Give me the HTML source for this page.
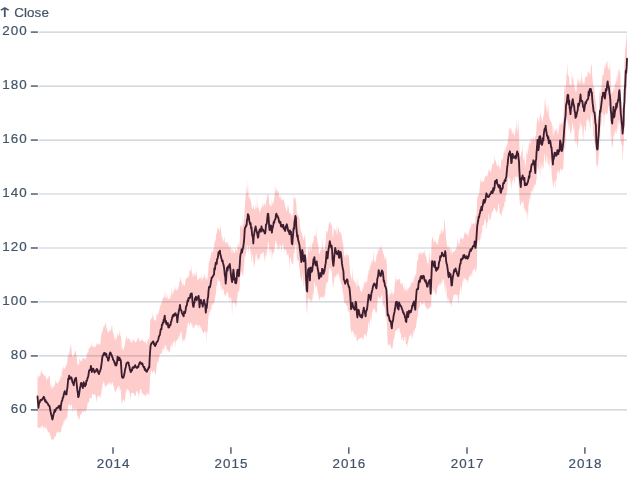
<!DOCTYPE html>
<html><head><meta charset="utf-8"><title>Close</title>
<style>
html,body{margin:0;padding:0;background:#fff;}
svg{display:block;font-family:"Liberation Sans",Arial,sans-serif;font-size:13.4px;fill:#435368;}
text{stroke:#435368;stroke-width:0.2px;}
</style></head>
<body>
<svg width="640" height="485" viewBox="0 0 640 485" style="will-change:transform">
<rect width="640" height="485" fill="#fff"/>
<g stroke="#c9cfd5" stroke-width="1.2" fill="none"><line x1="38.8" x2="627" y1="409.90" y2="409.90"/><line x1="38.8" x2="627" y1="355.93" y2="355.93"/><line x1="38.8" x2="627" y1="301.96" y2="301.96"/><line x1="38.8" x2="627" y1="247.99" y2="247.99"/><line x1="38.8" x2="627" y1="194.02" y2="194.02"/><line x1="38.8" x2="627" y1="140.04" y2="140.04"/><line x1="38.8" x2="627" y1="86.07" y2="86.07"/><line x1="38.8" x2="627" y1="32.10" y2="32.10"/></g>
<g stroke="#4b5a6b" stroke-width="1.45" fill="none"><line x1="30.8" x2="37.9" y1="409.90" y2="409.90"/><line x1="30.8" x2="37.9" y1="355.93" y2="355.93"/><line x1="30.8" x2="37.9" y1="301.96" y2="301.96"/><line x1="30.8" x2="37.9" y1="247.99" y2="247.99"/><line x1="30.8" x2="37.9" y1="194.02" y2="194.02"/><line x1="30.8" x2="37.9" y1="140.04" y2="140.04"/><line x1="30.8" x2="37.9" y1="86.07" y2="86.07"/><line x1="30.8" x2="37.9" y1="32.10" y2="32.10"/><line x1="113.0" x2="113.0" y1="447.2" y2="453.8"/><line x1="230.9" x2="230.9" y1="447.2" y2="453.8"/><line x1="348.8" x2="348.8" y1="447.2" y2="453.8"/><line x1="467.0" x2="467.0" y1="447.2" y2="453.8"/><line x1="584.9" x2="584.9" y1="447.2" y2="453.8"/></g>
<g letter-spacing="1"><text x="27.6" y="413.20" text-anchor="end">60</text><text x="27.6" y="359.23" text-anchor="end">80</text><text x="27.6" y="305.26" text-anchor="end">100</text><text x="27.6" y="251.29" text-anchor="end">120</text><text x="27.6" y="197.32" text-anchor="end">140</text><text x="27.6" y="143.34" text-anchor="end">160</text><text x="27.6" y="89.37" text-anchor="end">180</text><text x="27.6" y="35.40" text-anchor="end">200</text></g>
<g letter-spacing="1"><text x="113.6" y="468.2" text-anchor="middle">2014</text><text x="231.5" y="468.2" text-anchor="middle">2015</text><text x="349.4" y="468.2" text-anchor="middle">2016</text><text x="467.6" y="468.2" text-anchor="middle">2017</text><text x="585.5" y="468.2" text-anchor="middle">2018</text></g>
<text transform="translate(-4.0,16.6) scale(1,0.63)" font-family="DejaVu Sans" font-size="21px" style="stroke:none">↑</text><text x="14.2" y="16.6" letter-spacing="0.1">Close</text>
<path d="M37.5,376.2L38.0,374.4L38.4,377.9L38.9,377.7L39.3,375.4L39.8,375.9L40.2,375.4L40.7,373.2L41.1,369.1L41.6,372.0L42.0,372.9L42.5,372.9L42.9,373.9L43.4,374.6L43.8,374.7L44.3,375.3L44.7,376.2L45.2,377.3L45.6,374.6L46.1,378.4L46.6,380.4L47.0,380.1L47.5,378.2L47.9,377.1L48.4,375.3L48.8,379.0L49.3,376.3L49.7,375.6L50.2,383.9L50.6,384.9L51.1,389.2L51.5,384.6L52.0,388.8L52.4,388.5L52.9,385.8L53.3,386.7L53.8,387.1L54.2,386.3L54.7,385.1L55.1,383.8L55.6,379.1L56.1,382.5L56.5,383.0L57.0,382.0L57.4,384.1L57.9,383.8L58.3,382.1L58.8,382.1L59.2,381.1L59.7,380.0L60.1,379.4L60.6,375.2L61.0,377.5L61.5,376.4L61.9,370.4L62.4,371.5L62.8,367.8L63.3,368.9L63.7,365.8L64.2,368.7L64.7,369.1L65.1,368.0L65.6,367.1L66.0,365.2L66.5,365.3L66.9,363.7L67.4,359.6L67.8,356.4L68.3,352.4L68.7,356.5L69.2,353.6L69.6,351.5L70.1,347.8L70.5,347.0L71.0,343.0L71.4,349.3L71.9,353.5L72.3,356.6L72.8,356.4L73.2,358.0L73.7,355.7L74.2,354.0L74.6,353.0L75.1,350.3L75.5,351.1L76.0,351.8L76.4,356.8L76.9,358.3L77.3,365.5L77.8,363.2L78.2,364.7L78.7,364.4L79.1,364.7L79.6,356.4L80.0,361.0L80.5,360.2L80.9,361.1L81.4,361.9L81.8,361.2L82.3,359.1L82.8,357.6L83.2,357.4L83.7,358.2L84.1,358.7L84.6,359.9L85.0,357.2L85.5,359.4L85.9,358.7L86.4,357.8L86.8,354.2L87.3,352.2L87.7,353.2L88.2,352.9L88.6,348.4L89.1,348.1L89.5,348.8L90.0,347.5L90.4,347.5L90.9,345.6L91.3,346.5L91.8,340.6L92.3,347.8L92.7,345.2L93.2,346.7L93.6,347.6L94.1,347.4L94.5,346.2L95.0,345.0L95.4,347.7L95.9,346.3L96.3,345.4L96.8,343.3L97.2,343.2L97.7,343.7L98.1,344.6L98.6,343.5L99.0,345.4L99.5,344.4L99.9,344.2L100.4,343.5L100.9,337.3L101.3,333.1L101.8,334.8L102.2,331.0L102.7,331.2L103.1,327.4L103.6,326.0L104.0,328.1L104.5,325.8L104.9,324.3L105.4,324.7L105.8,320.6L106.3,326.6L106.7,329.0L107.2,328.2L107.6,332.3L108.1,332.3L108.5,333.1L109.0,330.6L109.4,329.4L109.9,331.1L110.4,331.5L110.8,330.5L111.3,327.9L111.7,325.6L112.2,325.5L112.6,331.0L113.1,332.4L113.5,333.8L114.0,335.3L114.4,339.7L114.9,338.6L115.3,341.0L115.8,335.0L116.2,338.7L116.7,338.3L117.1,337.4L117.6,331.7L118.0,336.3L118.5,335.2L119.0,334.1L119.4,334.2L119.9,329.1L120.3,335.2L120.8,336.2L121.2,337.5L121.7,347.9L122.1,350.3L122.6,346.2L123.0,348.4L123.5,350.5L123.9,347.7L124.4,346.9L124.8,344.7L125.3,341.9L125.7,338.8L126.2,336.3L126.6,337.0L127.1,337.8L127.5,340.1L128.0,339.3L128.5,338.1L128.9,338.6L129.4,340.1L129.8,338.5L130.3,341.7L130.7,342.2L131.2,340.1L131.6,343.4L132.1,342.9L132.5,339.8L133.0,339.0L133.4,340.1L133.9,341.7L134.3,341.7L134.8,339.5L135.2,342.7L135.7,342.2L136.1,342.0L136.6,341.5L137.1,339.8L137.5,338.9L138.0,339.5L138.4,337.6L138.9,337.6L139.3,341.7L139.8,341.1L140.2,341.0L140.7,340.3L141.1,339.8L141.6,339.6L142.0,340.9L142.5,339.1L142.9,341.1L143.4,341.5L143.8,340.2L144.3,341.9L144.7,342.3L145.2,342.6L145.6,339.4L146.1,344.9L146.6,343.8L147.0,342.7L147.5,340.9L147.9,340.1L148.4,338.7L148.8,339.1L149.3,341.1L149.7,333.9L150.2,320.3L150.6,320.0L151.1,317.7L151.5,318.1L152.0,319.0L152.4,311.4L152.9,318.3L153.3,314.9L153.8,319.4L154.2,320.3L154.7,320.5L155.2,319.9L155.6,320.4L156.1,319.7L156.5,315.3L157.0,312.4L157.4,315.2L157.9,314.4L158.3,313.8L158.8,311.8L159.2,310.5L159.7,308.2L160.1,302.9L160.6,306.4L161.0,305.5L161.5,302.3L161.9,302.0L162.4,299.9L162.8,298.4L163.3,298.1L163.7,297.9L164.2,296.8L164.7,290.3L165.1,298.5L165.6,296.8L166.0,291.2L166.5,298.2L166.9,298.4L167.4,294.3L167.8,299.1L168.3,298.4L168.7,299.6L169.2,298.6L169.6,298.5L170.1,297.6L170.5,296.3L171.0,294.4L171.4,287.1L171.9,293.5L172.3,295.5L172.8,291.7L173.3,293.0L173.7,290.5L174.2,290.1L174.6,288.4L175.1,290.4L175.5,285.6L176.0,291.3L176.4,290.5L176.9,288.7L177.3,289.3L177.8,290.5L178.2,287.6L178.7,286.3L179.1,284.8L179.6,279.9L180.0,281.6L180.5,277.1L180.9,278.0L181.4,282.1L181.8,282.1L182.3,285.1L182.8,286.3L183.2,283.4L183.7,284.4L184.1,285.4L184.6,285.9L185.0,283.7L185.5,280.9L185.9,277.5L186.4,279.1L186.8,278.7L187.3,275.5L187.7,278.0L188.2,277.4L188.6,277.0L189.1,274.6L189.5,270.9L190.0,269.7L190.4,269.9L190.9,272.1L191.4,265.3L191.8,272.2L192.3,273.4L192.7,275.8L193.2,277.6L193.6,274.2L194.1,272.8L194.5,276.0L195.0,271.4L195.4,276.4L195.9,274.6L196.3,269.7L196.8,274.8L197.2,278.1L197.7,281.2L198.1,278.3L198.6,280.4L199.0,279.0L199.5,277.4L199.9,278.8L200.4,277.3L200.9,279.0L201.3,273.0L201.8,281.8L202.2,280.6L202.7,277.9L203.1,278.1L203.6,276.7L204.0,276.0L204.5,272.5L204.9,278.9L205.4,276.6L205.8,279.8L206.3,277.6L206.7,280.1L207.2,280.4L207.6,277.4L208.1,272.1L208.5,267.4L209.0,260.3L209.5,262.5L209.9,258.3L210.4,258.4L210.8,255.2L211.3,253.1L211.7,250.8L212.2,252.4L212.6,252.3L213.1,251.9L213.5,248.0L214.0,250.2L214.4,241.3L214.9,242.8L215.3,240.3L215.8,239.6L216.2,233.1L216.7,233.5L217.1,231.6L217.6,226.7L218.0,229.0L218.5,228.5L219.0,227.2L219.4,231.4L219.9,230.3L220.3,224.8L220.8,228.5L221.2,232.7L221.7,236.2L222.1,239.1L222.6,235.3L223.0,242.4L223.5,239.3L223.9,241.2L224.4,235.2L224.8,240.2L225.3,243.3L225.7,242.8L226.2,242.6L226.6,242.0L227.1,242.3L227.6,242.1L228.0,244.3L228.5,244.3L228.9,246.3L229.4,247.9L229.8,246.5L230.3,243.6L230.7,249.9L231.2,247.8L231.6,250.7L232.1,254.6L232.5,249.3L233.0,249.6L233.4,250.8L233.9,252.4L234.3,252.7L234.8,252.9L235.2,250.1L235.7,247.5L236.1,252.6L236.6,250.3L237.1,251.5L237.5,244.5L238.0,245.2L238.4,241.4L238.9,248.4L239.3,246.2L239.8,239.7L240.2,223.9L240.7,226.9L241.1,224.4L241.6,227.5L242.0,227.4L242.5,227.2L242.9,215.3L243.4,223.7L243.8,224.1L244.3,216.0L244.7,208.8L245.2,201.6L245.7,193.9L246.1,195.2L246.6,185.0L247.0,190.5L247.5,192.5L247.9,180.1L248.4,192.9L248.8,198.0L249.3,195.9L249.7,199.5L250.2,197.5L250.6,200.2L251.1,201.5L251.5,204.9L252.0,208.2L252.4,208.5L252.9,209.5L253.3,204.7L253.8,205.7L254.2,210.0L254.7,209.1L255.2,209.4L255.6,204.1L256.1,207.6L256.5,209.8L257.0,195.1L257.4,206.8L257.9,207.4L258.3,209.3L258.8,206.0L259.2,211.5L259.7,212.8L260.1,211.0L260.6,210.4L261.0,208.5L261.5,206.9L261.9,206.4L262.4,201.8L262.8,207.9L263.3,206.3L263.8,203.8L264.2,205.3L264.7,201.8L265.1,206.8L265.6,205.1L266.0,202.9L266.5,199.8L266.9,198.4L267.4,194.6L267.8,194.6L268.3,194.2L268.7,196.8L269.2,203.3L269.6,204.9L270.1,206.7L270.5,204.5L271.0,205.9L271.4,207.0L271.9,199.1L272.3,202.4L272.8,203.7L273.3,204.2L273.7,200.7L274.2,199.6L274.6,195.6L275.1,183.7L275.5,191.3L276.0,191.2L276.4,186.9L276.9,191.5L277.3,189.9L277.8,192.7L278.2,193.1L278.7,189.3L279.1,196.5L279.6,198.6L280.0,194.5L280.5,196.3L280.9,200.0L281.4,197.0L281.9,200.7L282.3,200.0L282.8,200.4L283.2,198.8L283.7,198.2L284.1,201.8L284.6,202.8L285.0,205.2L285.5,208.1L285.9,208.6L286.4,212.6L286.8,210.0L287.3,209.7L287.7,204.0L288.2,209.1L288.6,203.4L289.1,212.0L289.5,214.2L290.0,213.1L290.4,213.3L290.9,213.0L291.4,215.4L291.8,219.3L292.3,215.1L292.7,215.0L293.2,212.1L293.6,192.7L294.1,199.7L294.5,198.3L295.0,197.1L295.4,197.6L295.9,201.9L296.3,202.4L296.8,213.6L297.2,216.5L297.7,211.0L298.1,214.9L298.6,216.2L299.0,218.4L299.5,218.0L300.0,225.9L300.4,229.6L300.9,231.0L301.3,232.7L301.8,232.6L302.2,234.9L302.7,236.8L303.1,237.5L303.6,240.1L304.0,239.3L304.5,236.0L304.9,233.1L305.4,238.8L305.8,248.2L306.3,255.2L306.7,261.4L307.2,263.2L307.6,254.8L308.1,250.3L308.5,245.5L309.0,251.7L309.5,252.7L309.9,245.2L310.4,251.6L310.8,240.1L311.3,250.1L311.7,250.9L312.2,242.4L312.6,243.9L313.1,241.7L313.5,241.6L314.0,235.3L314.4,236.9L314.9,234.4L315.3,235.3L315.8,236.6L316.2,226.6L316.7,238.9L317.1,237.5L317.6,243.3L318.1,243.8L318.5,247.4L319.0,254.2L319.4,253.8L319.9,252.7L320.3,251.0L320.8,250.0L321.2,249.7L321.7,249.2L322.1,237.6L322.6,245.5L323.0,250.2L323.5,248.4L323.9,250.3L324.4,249.8L324.8,247.8L325.3,243.3L325.7,242.1L326.2,230.7L326.6,231.3L327.1,230.5L327.6,234.3L328.0,230.1L328.5,225.9L328.9,222.7L329.4,222.2L329.8,223.2L330.3,221.1L330.7,224.4L331.2,224.3L331.6,224.4L332.1,227.4L332.5,235.9L333.0,237.4L333.4,235.4L333.9,227.4L334.3,229.4L334.8,229.4L335.2,231.2L335.7,230.7L336.2,224.6L336.6,233.5L337.1,234.8L337.5,231.3L338.0,226.5L338.4,228.3L338.9,229.8L339.3,232.3L339.8,231.9L340.2,232.8L340.7,232.4L341.1,233.5L341.6,234.8L342.0,237.6L342.5,241.9L342.9,242.4L343.4,246.3L343.8,252.0L344.3,255.1L344.7,256.7L345.2,255.1L345.7,257.1L346.1,258.4L346.6,251.3L347.0,255.3L347.5,255.1L347.9,253.9L348.4,257.4L348.8,253.4L349.3,261.8L349.7,267.0L350.2,272.6L350.6,275.5L351.1,276.1L351.5,279.7L352.0,277.2L352.4,267.5L352.9,279.1L353.3,278.1L353.8,281.2L354.3,280.4L354.7,281.6L355.2,284.0L355.6,283.5L356.1,277.8L356.5,287.2L357.0,287.1L357.4,284.1L357.9,277.3L358.3,285.1L358.8,285.2L359.2,287.0L359.7,285.8L360.1,289.7L360.6,290.9L361.0,290.9L361.5,292.3L361.9,291.8L362.4,290.8L362.8,286.7L363.3,288.9L363.8,282.4L364.2,285.5L364.7,281.1L365.1,281.4L365.6,281.6L366.0,283.4L366.5,280.1L366.9,282.8L367.4,279.4L367.8,273.8L368.3,274.7L368.7,269.7L369.2,270.9L369.6,268.8L370.1,261.5L370.5,267.0L371.0,265.9L371.4,259.2L371.9,263.9L372.4,261.5L372.8,259.7L373.3,249.6L373.7,260.4L374.2,260.2L374.6,261.6L375.1,260.0L375.5,263.3L376.0,261.6L376.4,252.5L376.9,257.9L377.3,253.5L377.8,253.6L378.2,245.4L378.7,251.3L379.1,251.4L379.6,248.8L380.0,246.9L380.5,247.9L380.9,247.4L381.4,249.5L381.9,244.1L382.3,251.0L382.8,250.2L383.2,253.5L383.7,254.6L384.1,254.2L384.6,260.3L385.0,257.8L385.5,259.8L385.9,255.4L386.4,260.8L386.8,264.9L387.3,285.3L387.7,293.0L388.2,294.5L388.6,296.8L389.1,299.1L389.5,291.0L390.0,295.9L390.5,292.1L390.9,294.5L391.4,293.0L391.8,288.5L392.3,291.8L392.7,296.1L393.2,292.6L393.6,294.6L394.1,292.3L394.5,286.7L395.0,282.9L395.4,279.8L395.9,274.5L396.3,281.7L396.8,279.3L397.2,279.3L397.7,279.4L398.1,280.9L398.6,279.1L399.0,279.3L399.5,278.6L400.0,279.8L400.4,282.9L400.9,283.9L401.3,284.6L401.8,282.9L402.2,283.5L402.7,283.3L403.1,288.1L403.6,286.2L404.0,293.3L404.5,282.7L404.9,290.4L405.4,289.7L405.8,290.1L406.3,288.3L406.7,290.9L407.2,291.7L407.6,288.8L408.1,288.5L408.6,288.8L409.0,287.2L409.5,287.2L409.9,286.4L410.4,286.0L410.8,282.0L411.3,284.7L411.7,282.1L412.2,281.1L412.6,282.3L413.1,283.2L413.5,281.4L414.0,277.3L414.4,274.8L414.9,279.1L415.3,272.5L415.8,276.4L416.2,272.9L416.7,266.6L417.1,259.4L417.6,261.6L418.1,259.3L418.5,252.7L419.0,255.3L419.4,250.8L419.9,253.8L420.3,252.1L420.8,254.4L421.2,254.8L421.7,251.5L422.1,254.3L422.6,253.3L423.0,251.7L423.5,252.7L423.9,252.3L424.4,249.2L424.8,253.4L425.3,254.2L425.7,256.0L426.2,256.5L426.7,258.6L427.1,262.6L427.6,262.6L428.0,266.2L428.5,258.7L428.9,263.2L429.4,249.2L429.8,256.8L430.3,260.0L430.7,261.3L431.2,255.9L431.6,241.9L432.1,236.5L432.5,237.1L433.0,238.7L433.4,240.5L433.9,242.5L434.3,242.0L434.8,238.6L435.2,240.9L435.7,241.8L436.2,242.5L436.6,243.6L437.1,245.0L437.5,243.3L438.0,243.3L438.4,237.4L438.9,239.7L439.3,234.6L439.8,234.5L440.2,234.5L440.7,232.7L441.1,230.8L441.6,229.7L442.0,228.9L442.5,234.2L442.9,232.6L443.4,231.4L443.8,229.2L444.3,221.4L444.8,218.5L445.2,228.1L445.7,232.1L446.1,239.7L446.6,241.7L447.0,244.7L447.5,246.7L447.9,248.1L448.4,245.2L448.8,249.0L449.3,245.4L449.7,249.1L450.2,247.8L450.6,251.6L451.1,253.2L451.5,247.0L452.0,255.6L452.4,252.4L452.9,252.6L453.3,250.9L453.8,251.4L454.3,252.1L454.7,251.2L455.2,249.0L455.6,249.9L456.1,249.4L456.5,247.4L457.0,243.4L457.4,241.5L457.9,236.4L458.3,246.1L458.8,242.5L459.2,245.1L459.7,242.8L460.1,237.0L460.6,239.2L461.0,239.2L461.5,238.3L461.9,237.2L462.4,239.6L462.9,239.2L463.3,238.5L463.8,237.0L464.2,235.0L464.7,231.1L465.1,234.0L465.6,233.6L466.0,231.9L466.5,233.6L466.9,233.9L467.4,234.8L467.8,236.4L468.3,236.0L468.7,232.6L469.2,231.3L469.6,228.9L470.1,227.8L470.5,226.3L471.0,229.3L471.4,221.5L471.9,224.7L472.4,224.2L472.8,223.5L473.3,222.3L473.7,223.8L474.2,223.2L474.6,224.6L475.1,223.1L475.5,217.3L476.0,214.2L476.4,216.1L476.9,206.0L477.3,195.2L477.8,198.4L478.2,193.2L478.7,196.6L479.1,194.3L479.6,188.7L480.0,185.0L480.5,176.9L481.0,182.6L481.4,181.1L481.9,182.5L482.3,179.4L482.8,182.1L483.2,181.7L483.7,181.9L484.1,181.0L484.6,176.3L485.0,178.6L485.5,175.1L485.9,176.6L486.4,176.0L486.8,175.4L487.3,176.9L487.7,174.0L488.2,173.3L488.6,169.9L489.1,169.5L489.5,169.0L490.0,171.4L490.5,172.2L490.9,171.7L491.4,168.9L491.8,166.0L492.3,164.4L492.7,162.7L493.2,164.9L493.6,161.9L494.1,164.2L494.5,154.4L495.0,160.3L495.4,161.4L495.9,159.6L496.3,163.3L496.8,164.4L497.2,166.6L497.7,167.0L498.1,162.1L498.6,166.3L499.1,164.7L499.5,168.6L500.0,170.1L500.4,167.4L500.9,167.0L501.3,157.6L501.8,160.0L502.2,158.9L502.7,161.1L503.1,157.1L503.6,153.7L504.0,149.8L504.5,153.4L504.9,145.7L505.4,153.3L505.8,146.5L506.3,147.8L506.7,144.8L507.2,145.1L507.6,143.1L508.1,137.9L508.6,135.7L509.0,127.6L509.5,127.5L509.9,130.9L510.4,128.3L510.8,128.9L511.3,128.1L511.7,133.2L512.2,130.9L512.6,133.5L513.1,135.3L513.5,129.7L514.0,135.4L514.4,135.7L514.9,134.4L515.3,130.3L515.8,126.4L516.2,130.6L516.7,119.4L517.2,126.7L517.6,131.0L518.1,134.5L518.5,117.3L519.0,129.5L519.4,147.2L519.9,153.6L520.3,155.8L520.8,156.7L521.2,151.2L521.7,151.8L522.1,152.4L522.6,143.4L523.0,159.0L523.5,160.2L523.9,156.0L524.4,158.0L524.8,162.7L525.3,168.1L525.7,163.0L526.2,158.8L526.7,149.4L527.1,153.7L527.6,154.6L528.0,146.0L528.5,152.1L528.9,143.0L529.4,144.6L529.8,140.1L530.3,145.0L530.7,138.5L531.2,136.9L531.6,141.0L532.1,141.5L532.5,139.8L533.0,138.2L533.4,136.6L533.9,140.1L534.3,140.0L534.8,139.4L535.3,135.3L535.7,137.3L536.2,131.9L536.6,125.1L537.1,120.7L537.5,116.4L538.0,117.9L538.4,119.9L538.9,123.6L539.3,120.0L539.8,116.6L540.2,116.2L540.7,109.4L541.1,118.8L541.6,116.0L542.0,121.5L542.5,121.4L542.9,118.8L543.4,116.4L543.8,114.5L544.3,109.2L544.8,99.1L545.2,108.1L545.7,95.8L546.1,108.8L546.6,111.5L547.0,102.7L547.5,115.6L547.9,107.6L548.4,103.8L548.8,115.0L549.3,117.0L549.7,119.5L550.2,119.9L550.6,121.0L551.1,122.2L551.5,122.1L552.0,126.2L552.4,124.4L552.9,136.4L553.4,134.2L553.8,124.2L554.3,133.8L554.7,131.2L555.2,128.7L555.6,131.3L556.1,127.8L556.5,132.7L557.0,125.0L557.4,131.8L557.9,135.5L558.3,132.7L558.8,129.1L559.2,126.3L559.7,123.1L560.1,122.6L560.6,125.0L561.0,125.3L561.5,121.5L561.9,123.4L562.4,125.5L562.9,118.0L563.3,121.7L563.8,110.4L564.2,91.7L564.7,85.1L565.1,85.4L565.6,91.1L566.0,85.2L566.5,74.7L566.9,73.0L567.4,61.7L567.8,74.7L568.3,75.0L568.7,76.1L569.2,78.0L569.6,83.7L570.1,84.8L570.5,84.8L571.0,86.9L571.5,83.4L571.9,69.1L572.4,81.6L572.8,77.0L573.3,77.2L573.7,84.8L574.2,84.5L574.6,87.0L575.1,89.3L575.5,91.7L576.0,90.6L576.4,92.5L576.9,85.4L577.3,75.0L577.8,85.3L578.2,82.9L578.7,79.8L579.1,77.8L579.6,82.9L580.0,83.8L580.5,81.4L581.0,78.8L581.4,70.5L581.9,83.0L582.3,83.7L582.8,75.6L583.2,85.7L583.7,81.4L584.1,84.1L584.6,82.1L585.0,77.3L585.5,77.2L585.9,78.0L586.4,75.3L586.8,76.6L587.3,78.0L587.7,71.7L588.2,72.7L588.6,71.1L589.1,73.9L589.6,74.7L590.0,71.2L590.5,76.2L590.9,67.5L591.4,65.1L591.8,63.8L592.3,77.2L592.7,79.5L593.2,86.8L593.6,86.0L594.1,85.5L594.5,93.3L595.0,96.7L595.4,99.0L595.9,104.1L596.3,104.7L596.8,120.3L597.2,124.3L597.7,113.5L598.1,122.8L598.6,116.2L599.1,106.5L599.5,89.6L600.0,95.0L600.4,93.3L600.9,87.6L601.3,90.0L601.8,83.6L602.2,76.3L602.7,74.9L603.1,74.6L603.6,75.4L604.0,71.8L604.5,62.0L604.9,70.0L605.4,63.9L605.8,67.5L606.3,62.2L606.7,62.8L607.2,60.1L607.7,66.9L608.1,69.0L608.6,67.7L609.0,70.5L609.5,68.5L609.9,59.1L610.4,73.1L610.8,82.7L611.3,90.5L611.7,94.0L612.2,92.9L612.6,91.8L613.1,90.7L613.5,85.4L614.0,91.4L614.4,89.9L614.9,83.8L615.3,84.1L615.8,81.9L616.2,75.1L616.7,83.6L617.2,69.6L617.6,82.3L618.1,75.5L618.5,72.0L619.0,69.2L619.4,69.1L619.9,71.9L620.3,73.2L620.8,89.5L621.2,101.5L621.7,99.3L622.1,104.3L622.6,108.0L623.0,109.1L623.5,108.8L623.9,78.2L624.4,65.1L624.8,56.0L625.3,48.8L625.8,44.4L626.2,39.8L626.7,34.8L627.0,34.3L627.0,85.6L626.7,87.9L626.2,95.1L625.8,100.2L625.3,104.9L624.8,116.0L624.4,124.4L623.9,141.6L623.5,145.9L623.0,153.9L622.6,163.4L622.1,144.8L621.7,144.8L621.2,144.5L620.8,140.2L620.3,139.5L619.9,124.7L619.4,120.2L619.0,120.6L618.5,130.5L618.1,119.8L617.6,125.3L617.2,130.4L616.7,135.4L616.2,129.1L615.8,129.8L615.3,134.2L614.9,131.1L614.4,133.8L614.0,136.3L613.5,135.8L613.1,143.2L612.6,149.1L612.2,143.6L611.7,147.0L611.3,132.8L610.8,141.1L610.4,117.0L609.9,118.2L609.5,107.0L609.0,107.3L608.6,105.5L608.1,107.3L607.7,113.8L607.2,113.3L606.7,113.9L606.3,115.2L605.8,112.0L605.4,113.6L604.9,114.6L604.5,115.8L604.0,130.5L603.6,115.1L603.1,114.3L602.7,114.3L602.2,111.5L601.8,119.9L601.3,124.9L600.9,125.7L600.4,128.5L600.0,148.9L599.5,130.6L599.1,152.5L598.6,156.8L598.1,164.2L597.7,164.8L597.2,168.1L596.8,166.6L596.3,164.5L595.9,152.5L595.4,143.4L595.0,144.3L594.5,143.2L594.1,137.8L593.6,135.8L593.2,136.6L592.7,123.5L592.3,115.2L591.8,118.0L591.4,114.3L590.9,112.4L590.5,126.4L590.0,130.7L589.6,123.8L589.1,120.3L588.6,120.1L588.2,122.7L587.7,118.3L587.3,118.6L586.8,120.3L586.4,121.9L585.9,132.1L585.5,130.9L585.0,130.0L584.6,125.5L584.1,126.7L583.7,144.7L583.2,130.1L582.8,125.0L582.3,140.8L581.9,126.1L581.4,124.3L581.0,129.0L580.5,123.6L580.0,120.4L579.6,131.5L579.1,127.2L578.7,132.3L578.2,143.0L577.8,144.7L577.3,149.1L576.9,145.0L576.4,138.5L576.0,139.6L575.5,145.3L575.1,137.3L574.6,142.6L574.2,125.9L573.7,131.3L573.3,128.0L572.8,123.0L572.4,123.8L571.9,127.2L571.5,132.3L571.0,132.3L570.5,134.8L570.1,132.8L569.6,128.3L569.2,124.0L568.7,131.9L568.3,122.8L567.8,123.9L567.4,120.3L566.9,119.4L566.5,120.6L566.0,125.5L565.6,152.2L565.1,137.3L564.7,149.4L564.2,147.7L563.8,157.6L563.3,167.9L562.9,170.0L562.4,168.9L561.9,171.9L561.5,170.5L561.0,169.6L560.6,168.9L560.1,168.5L559.7,172.4L559.2,174.9L558.8,168.8L558.3,174.1L557.9,170.6L557.4,172.4L557.0,173.0L556.5,182.3L556.1,179.0L555.6,181.2L555.2,190.8L554.7,180.2L554.3,181.6L553.8,184.6L553.4,189.0L552.9,184.0L552.4,180.9L552.0,178.1L551.5,170.7L551.1,166.2L550.6,161.3L550.2,158.6L549.7,159.5L549.3,172.0L548.8,163.7L548.4,164.5L547.9,164.3L547.5,160.0L547.0,154.3L546.6,157.3L546.1,162.7L545.7,163.0L545.2,160.5L544.8,153.4L544.3,155.4L543.8,161.1L543.4,168.2L542.9,168.4L542.5,164.0L542.0,168.9L541.6,168.5L541.1,162.1L540.7,179.6L540.2,160.8L539.8,177.6L539.3,160.2L538.9,167.7L538.4,169.7L538.0,171.7L537.5,165.6L537.1,169.3L536.6,180.2L536.2,179.5L535.7,185.0L535.3,185.3L534.8,185.2L534.3,183.5L533.9,192.2L533.4,187.0L533.0,187.3L532.5,190.0L532.1,193.8L531.6,190.7L531.2,191.6L530.7,204.2L530.3,189.9L529.8,197.8L529.4,198.7L528.9,204.4L528.5,204.0L528.0,219.0L527.6,210.0L527.1,221.4L526.7,210.7L526.2,212.7L525.7,212.0L525.3,208.3L524.8,211.6L524.4,207.8L523.9,208.6L523.5,201.8L523.0,200.7L522.6,203.5L522.1,203.5L521.7,200.6L521.2,203.2L520.8,205.0L520.3,205.8L519.9,204.1L519.4,197.8L519.0,189.6L518.5,182.5L518.1,179.9L517.6,176.6L517.2,176.7L516.7,177.9L516.2,176.7L515.8,176.6L515.3,176.0L514.9,183.2L514.4,183.5L514.0,176.6L513.5,178.4L513.1,181.8L512.6,179.4L512.2,184.0L511.7,190.7L511.3,181.0L510.8,187.3L510.4,178.4L509.9,178.1L509.5,182.7L509.0,175.2L508.6,177.9L508.1,178.8L507.6,186.2L507.2,190.5L506.7,194.7L506.3,195.0L505.8,196.4L505.4,203.3L504.9,201.8L504.5,201.0L504.0,210.6L503.6,207.0L503.1,206.7L502.7,210.8L502.2,211.7L501.8,213.1L501.3,218.1L500.9,214.4L500.4,214.7L500.0,213.3L499.5,212.2L499.1,204.5L498.6,203.5L498.1,204.4L497.7,213.9L497.2,208.4L496.8,211.2L496.3,213.8L495.9,209.5L495.4,211.7L495.0,207.8L494.5,207.7L494.1,208.6L493.6,208.9L493.2,211.0L492.7,211.5L492.3,211.7L491.8,212.6L491.4,215.0L490.9,218.0L490.5,219.8L490.0,218.9L489.5,221.2L489.1,214.5L488.6,213.2L488.2,220.2L487.7,223.0L487.3,222.1L486.8,228.8L486.4,228.9L485.9,219.1L485.5,219.3L485.0,221.8L484.6,219.3L484.1,222.9L483.7,225.2L483.2,225.7L482.8,226.0L482.3,225.3L481.9,239.5L481.4,231.9L481.0,233.3L480.5,240.8L480.0,237.3L479.6,246.4L479.1,239.9L478.7,240.8L478.2,239.2L477.8,243.2L477.3,243.5L476.9,265.3L476.4,269.8L476.0,272.0L475.5,271.4L475.1,269.0L474.6,267.4L474.2,270.1L473.7,269.3L473.3,270.6L472.8,270.5L472.4,272.6L471.9,277.8L471.4,272.6L471.0,274.6L470.5,276.0L470.1,275.8L469.6,276.6L469.2,276.5L468.7,278.5L468.3,280.6L467.8,283.6L467.4,280.8L466.9,280.3L466.5,280.2L466.0,279.2L465.6,278.3L465.1,280.3L464.7,277.2L464.2,279.4L463.8,277.1L463.3,281.7L462.9,279.8L462.4,282.9L461.9,288.0L461.5,293.6L461.0,284.5L460.6,286.6L460.1,289.9L459.7,294.4L459.2,293.7L458.8,306.3L458.3,299.8L457.9,298.2L457.4,295.3L457.0,294.5L456.5,295.3L456.1,295.2L455.6,294.3L455.2,295.1L454.7,295.0L454.3,293.7L453.8,295.5L453.3,296.1L452.9,300.0L452.4,299.7L452.0,300.7L451.5,306.7L451.1,305.6L450.6,301.7L450.2,304.4L449.7,303.2L449.3,300.4L448.8,301.1L448.4,298.2L447.9,298.4L447.5,296.1L447.0,304.8L446.6,291.3L446.1,286.6L445.7,295.0L445.2,283.2L444.8,281.5L444.3,290.3L443.8,280.8L443.4,279.0L442.9,278.8L442.5,280.0L442.0,284.7L441.6,280.8L441.1,284.2L440.7,282.5L440.2,286.9L439.8,282.6L439.3,286.5L438.9,284.0L438.4,285.5L438.0,286.6L437.5,287.6L437.1,290.1L436.6,295.6L436.2,292.5L435.7,293.7L435.2,295.3L434.8,292.3L434.3,289.4L433.9,291.8L433.4,291.6L433.0,288.1L432.5,288.9L432.1,293.4L431.6,290.4L431.2,306.3L430.7,308.1L430.3,306.2L429.8,306.0L429.4,309.3L428.9,307.8L428.5,310.1L428.0,307.6L427.6,308.8L427.1,308.1L426.7,310.0L426.2,307.4L425.7,306.9L425.3,305.4L424.8,305.2L424.4,302.5L423.9,299.3L423.5,304.9L423.0,302.9L422.6,304.6L422.1,303.7L421.7,306.3L421.2,303.4L420.8,301.7L420.3,301.3L419.9,307.3L419.4,306.3L419.0,308.8L418.5,309.2L418.1,313.1L417.6,317.6L417.1,318.3L416.7,321.3L416.2,325.4L415.8,329.0L415.3,327.1L414.9,329.0L414.4,332.4L414.0,331.2L413.5,329.6L413.1,339.5L412.6,333.4L412.2,338.9L411.7,332.2L411.3,341.0L410.8,333.6L410.4,335.7L409.9,335.8L409.5,335.5L409.0,338.3L408.6,339.2L408.1,342.3L407.6,343.9L407.2,347.2L406.7,344.6L406.3,343.9L405.8,344.0L405.4,336.7L404.9,337.0L404.5,337.6L404.0,340.0L403.6,340.7L403.1,341.5L402.7,337.9L402.2,336.4L401.8,340.1L401.3,340.2L400.9,332.5L400.4,333.0L400.0,334.5L399.5,328.6L399.0,328.8L398.6,328.3L398.1,327.7L397.7,328.3L397.2,330.7L396.8,330.1L396.3,330.8L395.9,330.8L395.4,330.7L395.0,333.6L394.5,337.7L394.1,337.3L393.6,340.1L393.2,343.0L392.7,346.6L392.3,348.8L391.8,347.9L391.4,349.2L390.9,347.1L390.5,345.0L390.0,345.9L389.5,342.9L389.1,343.9L388.6,345.1L388.2,346.7L387.7,342.7L387.3,335.6L386.8,318.8L386.4,316.5L385.9,321.3L385.5,314.9L385.0,308.9L384.6,308.0L384.1,306.3L383.7,304.2L383.2,305.3L382.8,309.4L382.3,295.4L381.9,295.7L381.4,295.1L380.9,296.4L380.5,298.4L380.0,299.0L379.6,298.7L379.1,297.2L378.7,296.2L378.2,296.7L377.8,299.1L377.3,305.7L376.9,311.8L376.4,312.4L376.0,314.3L375.5,310.1L375.1,311.8L374.6,308.3L374.2,309.1L373.7,308.2L373.3,308.9L372.8,312.3L372.4,309.8L371.9,314.4L371.4,324.8L371.0,316.1L370.5,318.8L370.1,319.9L369.6,328.5L369.2,321.3L368.7,322.1L368.3,323.7L367.8,329.4L367.4,331.9L366.9,333.7L366.5,337.2L366.0,336.1L365.6,334.3L365.1,333.8L364.7,334.6L364.2,335.8L363.8,335.3L363.3,341.5L362.8,338.3L362.4,338.1L361.9,339.5L361.5,336.7L361.0,337.4L360.6,338.1L360.1,338.3L359.7,339.5L359.2,338.1L358.8,338.8L358.3,338.8L357.9,341.8L357.4,341.4L357.0,340.5L356.5,340.3L356.1,333.1L355.6,336.6L355.2,337.6L354.7,337.2L354.3,333.9L353.8,333.8L353.3,331.8L352.9,331.4L352.4,330.2L352.0,332.0L351.5,333.0L351.1,330.7L350.6,327.7L350.2,322.0L349.7,313.5L349.3,312.0L348.8,311.9L348.4,309.0L347.9,313.0L347.5,305.1L347.0,306.3L346.6,305.8L346.1,304.4L345.7,303.2L345.2,303.5L344.7,303.6L344.3,302.0L343.8,299.8L343.4,294.4L342.9,293.0L342.5,290.6L342.0,287.4L341.6,283.6L341.1,285.0L340.7,282.4L340.2,279.3L339.8,278.6L339.3,276.3L338.9,274.6L338.4,272.8L338.0,272.7L337.5,277.3L337.1,273.4L336.6,277.1L336.2,273.0L335.7,277.9L335.2,276.8L334.8,275.4L334.3,278.8L333.9,282.4L333.4,286.5L333.0,288.6L332.5,281.0L332.1,276.7L331.6,270.4L331.2,269.0L330.7,270.1L330.3,267.9L329.8,267.8L329.4,268.5L328.9,269.6L328.5,277.0L328.0,282.5L327.6,282.0L327.1,282.1L326.6,283.3L326.2,284.1L325.7,287.8L325.3,291.3L324.8,299.8L324.4,294.4L323.9,295.5L323.5,298.3L323.0,297.1L322.6,296.9L322.1,298.5L321.7,296.4L321.2,297.0L320.8,296.4L320.3,298.5L319.9,297.6L319.4,300.4L319.0,300.4L318.5,295.1L318.1,293.9L317.6,292.4L317.1,286.8L316.7,286.6L316.2,286.7L315.8,283.9L315.3,290.0L314.9,282.1L314.4,282.2L314.0,286.9L313.5,300.0L313.1,291.1L312.6,296.7L312.2,300.2L311.7,300.8L311.3,302.2L310.8,297.7L310.4,302.1L309.9,300.6L309.5,299.8L309.0,297.9L308.5,299.1L308.1,298.0L307.6,301.1L307.2,314.5L306.7,311.1L306.3,305.7L305.8,293.8L305.4,282.7L304.9,279.5L304.5,281.3L304.0,286.8L303.6,285.3L303.1,279.3L302.7,275.7L302.2,272.6L301.8,280.8L301.3,281.9L300.9,277.5L300.4,277.5L300.0,272.0L299.5,269.3L299.0,265.4L298.6,260.5L298.1,260.5L297.7,260.5L297.2,260.1L296.8,257.9L296.3,245.6L295.9,244.9L295.4,245.5L295.0,245.1L294.5,255.3L294.1,252.8L293.6,253.1L293.2,265.3L292.7,263.3L292.3,264.3L291.8,263.0L291.4,262.6L290.9,258.1L290.4,257.6L290.0,260.0L289.5,270.5L289.1,258.1L288.6,256.4L288.2,253.4L287.7,254.5L287.3,254.9L286.8,255.7L286.4,251.3L285.9,249.8L285.5,249.7L285.0,249.2L284.6,254.2L284.1,247.4L283.7,249.3L283.2,244.2L282.8,243.1L282.3,247.4L281.9,245.4L281.4,253.8L280.9,245.1L280.5,246.2L280.0,245.2L279.6,250.1L279.1,243.4L278.7,252.6L278.2,245.6L277.8,251.4L277.3,244.9L276.9,244.0L276.4,244.8L276.0,239.2L275.5,241.8L275.1,243.6L274.6,248.1L274.2,251.7L273.7,254.1L273.3,251.4L272.8,253.1L272.3,255.6L271.9,261.2L271.4,250.0L271.0,249.7L270.5,249.6L270.1,253.8L269.6,252.4L269.2,248.4L268.7,241.8L268.3,241.6L267.8,244.9L267.4,252.6L266.9,247.7L266.5,257.3L266.0,253.6L265.6,259.4L265.1,253.4L264.7,257.3L264.2,263.6L263.8,252.9L263.3,252.1L262.8,252.0L262.4,254.7L261.9,253.8L261.5,253.0L261.0,253.6L260.6,254.2L260.1,255.8L259.7,258.4L259.2,259.9L258.8,258.3L258.3,260.5L257.9,261.0L257.4,256.1L257.0,262.3L256.5,253.4L256.1,254.0L255.6,256.2L255.2,261.1L254.7,267.0L254.2,264.0L253.8,258.7L253.3,268.6L252.9,254.1L252.4,256.2L252.0,261.4L251.5,263.6L251.1,250.9L250.6,255.6L250.2,248.8L249.7,245.3L249.3,245.4L248.8,254.7L248.4,250.2L247.9,245.2L247.5,246.2L247.0,245.2L246.6,248.5L246.1,254.1L245.7,254.5L245.2,257.3L244.7,255.3L244.3,263.5L243.8,268.1L243.4,273.3L242.9,276.4L242.5,275.7L242.0,271.2L241.6,271.4L241.1,275.4L240.7,274.3L240.2,276.4L239.8,284.9L239.3,290.2L238.9,291.9L238.4,291.8L238.0,290.7L237.5,296.4L237.1,298.8L236.6,303.6L236.1,306.4L235.7,307.5L235.2,304.1L234.8,302.3L234.3,304.2L233.9,301.6L233.4,302.6L233.0,302.5L232.5,303.8L232.1,315.9L231.6,302.5L231.2,298.9L230.7,297.4L230.3,297.5L229.8,304.1L229.4,296.0L228.9,298.0L228.5,297.4L228.0,292.6L227.6,290.7L227.1,294.3L226.6,292.1L226.2,293.8L225.7,296.1L225.3,296.3L224.8,294.7L224.4,295.0L223.9,292.3L223.5,289.2L223.0,288.3L222.6,290.5L222.1,289.4L221.7,287.6L221.2,283.8L220.8,293.0L220.3,282.8L219.9,281.6L219.4,280.8L219.0,281.4L218.5,281.7L218.0,277.9L217.6,277.7L217.1,292.8L216.7,284.2L216.2,286.4L215.8,297.0L215.3,292.7L214.9,304.5L214.4,298.8L214.0,305.2L213.5,301.8L213.1,303.0L212.6,305.6L212.2,303.9L211.7,305.4L211.3,309.5L210.8,308.9L210.4,309.9L209.9,316.4L209.5,312.1L209.0,312.0L208.5,317.3L208.1,320.0L207.6,334.6L207.2,330.6L206.7,331.5L206.3,343.5L205.8,332.4L205.4,331.7L204.9,331.9L204.5,330.3L204.0,333.6L203.6,333.3L203.1,332.7L202.7,331.1L202.2,331.7L201.8,329.4L201.3,328.9L200.9,325.8L200.4,328.1L199.9,328.0L199.5,324.8L199.0,325.6L198.6,324.5L198.1,329.2L197.7,324.3L197.2,326.8L196.8,323.8L196.3,325.6L195.9,325.3L195.4,324.9L195.0,324.0L194.5,327.5L194.1,326.6L193.6,327.8L193.2,329.0L192.7,327.8L192.3,325.0L191.8,322.7L191.4,326.6L190.9,322.3L190.4,322.8L190.0,323.3L189.5,327.3L189.1,322.9L188.6,321.4L188.2,324.5L187.7,323.0L187.3,327.5L186.8,328.3L186.4,333.8L185.9,334.7L185.5,337.8L185.0,339.6L184.6,338.7L184.1,342.5L183.7,338.5L183.2,341.7L182.8,337.2L182.3,343.9L181.8,333.5L181.4,331.8L180.9,331.3L180.5,334.0L180.0,332.7L179.6,338.5L179.1,335.5L178.7,336.6L178.2,338.5L177.8,339.9L177.3,339.0L176.9,340.0L176.4,341.6L176.0,340.1L175.5,344.0L175.1,347.7L174.6,339.5L174.2,341.6L173.7,342.2L173.3,342.3L172.8,344.5L172.3,346.9L171.9,341.7L171.4,348.0L171.0,344.6L170.5,347.2L170.1,349.7L169.6,353.3L169.2,352.0L168.7,351.4L168.3,351.6L167.8,349.7L167.4,350.9L166.9,347.5L166.5,350.4L166.0,344.7L165.6,344.7L165.1,348.0L164.7,349.5L164.2,344.2L163.7,350.3L163.3,349.7L162.8,348.4L162.4,350.1L161.9,354.0L161.5,353.3L161.0,352.3L160.6,354.2L160.1,354.5L159.7,354.9L159.2,357.8L158.8,359.0L158.3,363.8L157.9,362.3L157.4,361.0L157.0,364.6L156.5,367.7L156.1,371.3L155.6,376.2L155.2,373.2L154.7,372.5L154.2,371.4L153.8,371.5L153.3,369.5L152.9,372.7L152.4,372.7L152.0,371.2L151.5,371.1L151.1,369.4L150.6,375.9L150.2,375.2L149.7,387.1L149.3,395.9L148.8,394.0L148.4,393.6L147.9,394.6L147.5,394.1L147.0,392.3L146.6,394.1L146.1,396.1L145.6,395.9L145.2,395.1L144.7,394.6L144.3,396.0L143.8,395.6L143.4,393.9L142.9,394.1L142.5,393.8L142.0,392.7L141.6,392.7L141.1,389.0L140.7,389.0L140.2,389.0L139.8,391.0L139.3,394.9L138.9,392.7L138.4,399.5L138.0,393.3L137.5,391.9L137.1,391.5L136.6,390.8L136.1,392.4L135.7,395.4L135.2,396.5L134.8,394.5L134.3,396.0L133.9,392.8L133.4,393.9L133.0,392.8L132.5,392.9L132.1,392.0L131.6,393.8L131.2,393.1L130.7,400.0L130.3,396.5L129.8,391.8L129.4,392.9L128.9,390.0L128.5,390.4L128.0,389.6L127.5,389.8L127.1,388.5L126.6,390.0L126.2,391.6L125.7,393.5L125.3,397.5L124.8,401.2L124.4,401.8L123.9,400.5L123.5,399.6L123.0,399.3L122.6,401.0L122.1,404.6L121.7,403.6L121.2,399.5L120.8,390.4L120.3,388.3L119.9,391.1L119.4,386.5L119.0,385.6L118.5,386.6L118.0,388.2L117.6,387.2L117.1,387.6L116.7,390.1L116.2,389.9L115.8,390.9L115.3,392.5L114.9,392.4L114.4,388.8L114.0,387.8L113.5,385.6L113.1,384.8L112.6,383.1L112.2,381.8L111.7,383.2L111.3,384.9L110.8,385.2L110.4,382.3L109.9,384.7L109.4,381.7L109.0,382.4L108.5,383.2L108.1,386.3L107.6,384.7L107.2,383.8L106.7,386.1L106.3,384.7L105.8,388.1L105.4,386.8L104.9,385.4L104.5,385.1L104.0,381.4L103.6,381.4L103.1,383.9L102.7,383.8L102.2,389.4L101.8,388.7L101.3,393.7L100.9,393.7L100.4,397.7L99.9,398.0L99.5,396.7L99.0,396.1L98.6,395.6L98.1,396.0L97.7,396.3L97.2,397.8L96.8,402.7L96.3,399.6L95.9,397.5L95.4,395.1L95.0,394.3L94.5,393.8L94.1,394.2L93.6,396.0L93.2,394.5L92.7,393.2L92.3,394.0L91.8,396.2L91.3,399.5L90.9,398.1L90.4,398.0L90.0,398.0L89.5,398.0L89.1,403.4L88.6,402.3L88.2,401.7L87.7,403.0L87.3,405.4L86.8,410.6L86.4,408.7L85.9,410.1L85.5,412.4L85.0,411.6L84.6,410.6L84.1,412.0L83.7,409.8L83.2,413.4L82.8,411.2L82.3,411.1L81.8,412.8L81.4,414.1L80.9,415.2L80.5,414.3L80.0,415.0L79.6,419.6L79.1,418.7L78.7,418.9L78.2,417.0L77.8,415.9L77.3,415.4L76.9,412.4L76.4,407.8L76.0,410.2L75.5,408.6L75.1,410.5L74.6,407.2L74.2,412.9L73.7,408.6L73.2,409.0L72.8,412.2L72.3,409.3L71.9,404.4L71.4,404.7L71.0,405.4L70.5,408.0L70.1,405.3L69.6,405.1L69.2,403.7L68.7,404.5L68.3,406.1L67.8,409.9L67.4,417.3L66.9,417.2L66.5,419.7L66.0,417.8L65.6,420.3L65.1,419.7L64.7,423.4L64.2,419.2L63.7,421.0L63.3,425.1L62.8,425.9L62.4,423.4L61.9,427.8L61.5,427.2L61.0,432.4L60.6,431.8L60.1,432.1L59.7,433.0L59.2,433.1L58.8,432.0L58.3,432.0L57.9,431.1L57.4,434.6L57.0,431.8L56.5,432.6L56.1,435.9L55.6,436.8L55.1,436.1L54.7,436.6L54.2,437.9L53.8,439.4L53.3,439.4L52.9,439.4L52.4,439.6L52.0,439.4L51.5,440.2L51.1,437.4L50.6,435.9L50.2,435.4L49.7,433.4L49.3,432.7L48.8,431.6L48.4,432.9L47.9,431.1L47.5,430.9L47.0,429.4L46.6,428.0L46.1,427.5L45.6,429.9L45.2,425.6L44.7,427.0L44.3,427.8L43.8,428.9L43.4,427.3L42.9,426.3L42.5,425.5L42.0,425.3L41.6,426.4L41.1,429.4L40.7,426.1L40.2,428.4L39.8,426.6L39.3,428.8L38.9,427.5L38.4,428.1L38.0,427.6L37.5,427.0Z" fill="#ff0000" fill-opacity="0.2" stroke="none"/>
<path d="M37.5,396.5L38.0,402.5L38.4,407.9L38.9,404.4L39.3,403.0L39.8,402.3L40.2,400.2L40.7,399.9L41.1,400.2L41.6,400.2L42.0,399.5L42.5,399.1L42.9,397.9L43.4,398.2L43.8,396.8L44.3,397.6L44.7,399.8L45.2,401.4L45.6,400.2L46.1,402.4L46.6,402.0L47.0,402.7L47.5,403.1L47.9,403.9L48.4,405.3L48.8,405.5L49.3,405.6L49.7,407.1L50.2,409.6L50.6,411.8L51.1,414.3L51.5,415.3L52.0,417.7L52.4,419.6L52.9,417.9L53.3,415.6L53.8,413.1L54.2,412.2L54.7,410.0L55.1,411.7L55.6,410.2L56.1,409.0L56.5,408.2L57.0,408.1L57.4,407.7L57.9,407.8L58.3,407.0L58.8,406.0L59.2,405.7L59.7,406.1L60.1,408.8L60.6,409.9L61.0,405.1L61.5,402.4L61.9,400.8L62.4,400.2L62.8,397.6L63.3,397.4L63.7,394.7L64.2,393.0L64.7,391.2L65.1,393.2L65.6,394.0L66.0,394.6L66.5,394.4L66.9,390.4L67.4,387.8L67.8,383.5L68.3,378.5L68.7,379.5L69.2,375.6L69.6,377.8L70.1,378.7L70.5,377.7L71.0,377.4L71.4,377.4L71.9,379.5L72.3,381.9L72.8,382.8L73.2,383.3L73.7,385.3L74.2,382.0L74.6,380.1L75.1,378.9L75.5,378.4L76.0,377.8L76.4,381.0L76.9,386.0L77.3,389.9L77.8,392.9L78.2,397.1L78.7,396.6L79.1,394.0L79.6,390.7L80.0,387.8L80.5,386.3L80.9,383.1L81.4,383.0L81.8,384.1L82.3,385.9L82.8,388.1L83.2,385.6L83.7,382.2L84.1,384.3L84.6,385.1L85.0,386.3L85.5,383.6L85.9,384.8L86.4,380.6L86.8,381.0L87.3,379.3L87.7,377.5L88.2,376.7L88.6,374.0L89.1,370.7L89.5,370.1L90.0,369.8L90.4,370.1L90.9,365.9L91.3,368.6L91.8,372.0L92.3,370.7L92.7,368.6L93.2,368.6L93.6,369.5L94.1,371.3L94.5,372.5L95.0,371.9L95.4,371.1L95.9,371.3L96.3,369.8L96.8,368.9L97.2,369.7L97.7,370.2L98.1,372.3L98.6,373.4L99.0,374.1L99.5,372.1L99.9,371.3L100.4,370.1L100.9,368.3L101.3,365.3L101.8,361.9L102.2,358.1L102.7,355.5L103.1,355.8L103.6,354.0L104.0,353.1L104.5,352.9L104.9,353.1L105.4,355.4L105.8,354.3L106.3,353.8L106.7,356.7L107.2,357.4L107.6,357.9L108.1,360.7L108.5,360.4L109.0,358.1L109.4,355.5L109.9,353.0L110.4,352.4L110.8,353.3L111.3,354.7L111.7,355.0L112.2,357.0L112.6,357.5L113.1,359.7L113.5,360.2L114.0,360.9L114.4,362.8L114.9,362.4L115.3,365.2L115.8,365.4L116.2,365.5L116.7,364.2L117.1,361.8L117.6,356.6L118.0,359.8L118.5,359.9L119.0,360.2L119.4,357.6L119.9,358.7L120.3,359.4L120.8,360.6L121.2,366.6L121.7,374.3L122.1,377.3L122.6,377.6L123.0,377.8L123.5,377.3L123.9,376.0L124.4,373.8L124.8,371.4L125.3,368.4L125.7,367.7L126.2,364.7L126.6,363.2L127.1,363.0L127.5,362.4L128.0,362.3L128.5,362.5L128.9,365.3L129.4,366.2L129.8,369.4L130.3,370.5L130.7,372.1L131.2,371.4L131.6,369.4L132.1,370.4L132.5,367.6L133.0,367.1L133.4,367.3L133.9,367.8L134.3,366.6L134.8,366.1L135.2,365.1L135.7,367.1L136.1,367.0L136.6,367.7L137.1,368.0L137.5,366.8L138.0,366.5L138.4,366.9L138.9,364.4L139.3,363.6L139.8,362.5L140.2,362.1L140.7,363.0L141.1,363.9L141.6,364.0L142.0,363.3L142.5,363.7L142.9,365.8L143.4,366.5L143.8,367.4L144.3,366.9L144.7,370.0L145.2,368.8L145.6,369.8L146.1,371.1L146.6,371.8L147.0,371.3L147.5,370.1L147.9,369.6L148.4,368.5L148.8,367.0L149.3,367.5L149.7,357.5L150.2,350.5L150.6,345.8L151.1,343.9L151.5,343.1L152.0,342.7L152.4,342.4L152.9,341.4L153.3,341.5L153.8,344.3L154.2,343.4L154.7,345.0L155.2,346.1L155.6,344.2L156.1,344.3L156.5,342.4L157.0,342.1L157.4,341.7L157.9,340.5L158.3,339.5L158.8,336.9L159.2,336.0L159.7,335.2L160.1,333.4L160.6,329.9L161.0,328.9L161.5,329.1L161.9,324.7L162.4,324.8L162.8,322.5L163.3,322.8L163.7,319.7L164.2,319.2L164.7,315.7L165.1,319.2L165.6,322.6L166.0,320.9L166.5,324.3L166.9,323.2L167.4,324.7L167.8,322.9L168.3,327.5L168.7,326.3L169.2,327.3L169.6,326.0L170.1,324.6L170.5,325.1L171.0,321.7L171.4,321.4L171.9,318.7L172.3,317.6L172.8,315.3L173.3,314.8L173.7,316.3L174.2,314.2L174.6,315.2L175.1,313.4L175.5,313.3L176.0,315.2L176.4,314.7L176.9,317.3L177.3,322.3L177.8,317.7L178.2,314.5L178.7,312.0L179.1,310.0L179.6,307.7L180.0,304.9L180.5,309.6L180.9,309.6L181.4,310.5L181.8,312.2L182.3,313.7L182.8,314.5L183.2,315.5L183.7,316.2L184.1,311.6L184.6,312.9L185.0,313.1L185.5,310.9L185.9,307.6L186.4,305.7L186.8,305.6L187.3,302.1L187.7,300.2L188.2,301.3L188.6,297.9L189.1,298.4L189.5,298.3L190.0,297.8L190.4,294.7L190.9,293.6L191.4,295.0L191.8,293.5L192.3,299.1L192.7,303.4L193.2,306.6L193.6,306.8L194.1,302.9L194.5,302.7L195.0,298.1L195.4,299.2L195.9,296.6L196.3,298.5L196.8,300.1L197.2,297.9L197.7,297.3L198.1,297.3L198.6,295.9L199.0,299.1L199.5,307.3L199.9,303.5L200.4,301.4L200.9,299.8L201.3,300.9L201.8,303.7L202.2,303.2L202.7,306.7L203.1,303.9L203.6,302.5L204.0,300.0L204.5,302.4L204.9,303.8L205.4,306.4L205.8,312.6L206.3,307.6L206.7,307.8L207.2,303.4L207.6,298.7L208.1,297.2L208.5,291.3L209.0,287.0L209.5,287.1L209.9,287.3L210.4,285.3L210.8,282.3L211.3,280.3L211.7,277.5L212.2,277.5L212.6,277.0L213.1,275.8L213.5,275.1L214.0,274.6L214.4,268.3L214.9,269.7L215.3,266.2L215.8,262.6L216.2,263.0L216.7,263.9L217.1,259.1L217.6,258.6L218.0,256.8L218.5,252.2L219.0,252.3L219.4,251.6L219.9,250.6L220.3,254.3L220.8,255.6L221.2,257.8L221.7,259.3L222.1,261.4L222.6,260.5L223.0,263.0L223.5,264.7L223.9,266.7L224.4,270.3L224.8,275.3L225.3,277.1L225.7,283.6L226.2,278.2L226.6,271.8L227.1,267.6L227.6,270.5L228.0,266.4L228.5,267.6L228.9,267.4L229.4,264.5L229.8,264.0L230.3,268.0L230.7,272.6L231.2,276.7L231.6,279.4L232.1,282.0L232.5,279.4L233.0,273.6L233.4,269.7L233.9,273.9L234.3,279.7L234.8,278.2L235.2,282.6L235.7,283.3L236.1,283.3L236.6,280.0L237.1,272.8L237.5,269.8L238.0,269.9L238.4,271.3L238.9,276.2L239.3,270.6L239.8,263.8L240.2,257.0L240.7,253.4L241.1,253.1L241.6,249.4L242.0,252.5L242.5,249.6L242.9,248.4L243.4,245.8L243.8,242.8L244.3,237.3L244.7,229.9L245.2,227.4L245.7,227.1L246.1,225.3L246.6,225.5L247.0,220.0L247.5,218.5L247.9,214.1L248.4,215.6L248.8,215.9L249.3,221.3L249.7,222.6L250.2,224.4L250.6,223.1L251.1,228.5L251.5,227.4L252.0,233.6L252.4,235.9L252.9,237.5L253.3,243.5L253.8,236.0L254.2,234.0L254.7,230.7L255.2,228.4L255.6,226.4L256.1,229.0L256.5,230.7L257.0,232.4L257.4,234.7L257.9,237.7L258.3,237.1L258.8,232.1L259.2,231.5L259.7,229.5L260.1,231.7L260.6,229.0L261.0,231.6L261.5,226.3L261.9,229.2L262.4,230.6L262.8,229.4L263.3,229.9L263.8,231.5L264.2,231.4L264.7,233.4L265.1,233.5L265.6,230.1L266.0,224.6L266.5,224.2L266.9,222.7L267.4,217.0L267.8,213.7L268.3,214.2L268.7,218.8L269.2,227.2L269.6,230.1L270.1,229.4L270.5,225.6L271.0,225.4L271.4,229.1L271.9,232.7L272.3,229.0L272.8,227.5L273.3,224.9L273.7,221.9L274.2,222.8L274.6,220.4L275.1,219.3L275.5,218.9L276.0,214.5L276.4,213.7L276.9,216.6L277.3,215.6L277.8,216.6L278.2,217.3L278.7,219.7L279.1,221.8L279.6,222.8L280.0,221.7L280.5,222.0L280.9,226.2L281.4,226.6L281.9,225.0L282.3,226.8L282.8,225.7L283.2,224.9L283.7,228.8L284.1,227.5L284.6,227.8L285.0,231.0L285.5,229.6L285.9,226.1L286.4,225.9L286.8,224.3L287.3,226.4L287.7,228.1L288.2,231.0L288.6,231.6L289.1,232.4L289.5,234.2L290.0,230.4L290.4,233.3L290.9,231.6L291.4,236.8L291.8,243.5L292.3,244.3L292.7,238.7L293.2,233.0L293.6,228.3L294.1,228.9L294.5,221.6L295.0,219.5L295.4,215.9L295.9,217.8L296.3,226.8L296.8,232.3L297.2,236.6L297.7,235.4L298.1,239.8L298.6,241.6L299.0,243.1L299.5,245.2L300.0,250.0L300.4,253.1L300.9,258.0L301.3,262.0L301.8,257.4L302.2,249.9L302.7,252.1L303.1,258.2L303.6,261.4L304.0,260.8L304.5,255.6L304.9,255.3L305.4,259.6L305.8,272.1L306.3,282.7L306.7,289.9L307.2,291.5L307.6,279.8L308.1,269.6L308.5,269.3L309.0,268.2L309.5,273.9L309.9,280.4L310.4,270.6L310.8,267.4L311.3,268.8L311.7,271.8L312.2,270.7L312.6,267.5L313.1,264.0L313.5,259.2L314.0,259.5L314.4,257.2L314.9,262.3L315.3,264.4L315.8,265.4L316.2,262.7L316.7,261.4L317.1,264.8L317.6,268.0L318.1,270.5L318.5,273.3L319.0,278.6L319.4,277.6L319.9,273.6L320.3,273.1L320.8,273.4L321.2,276.7L321.7,273.9L322.1,268.8L322.6,269.1L323.0,270.3L323.5,273.9L323.9,272.5L324.4,271.1L324.8,268.7L325.3,265.1L325.7,263.2L326.2,257.7L326.6,251.8L327.1,258.5L327.6,258.2L328.0,253.6L328.5,249.5L328.9,247.2L329.4,244.2L329.8,241.1L330.3,244.1L330.7,245.6L331.2,247.4L331.6,245.7L332.1,250.0L332.5,258.7L333.0,263.3L333.4,265.8L333.9,261.2L334.3,256.1L334.8,252.0L335.2,248.0L335.7,250.5L336.2,251.7L336.6,253.5L337.1,254.3L337.5,253.0L338.0,254.0L338.4,250.6L338.9,257.4L339.3,257.8L339.8,252.4L340.2,251.9L340.7,252.1L341.1,254.6L341.6,259.6L342.0,263.7L342.5,266.9L342.9,269.1L343.4,271.1L343.8,279.3L344.3,280.2L344.7,281.9L345.2,283.7L345.7,281.4L346.1,281.2L346.6,281.4L347.0,279.3L347.5,280.1L347.9,283.7L348.4,285.2L348.8,287.0L349.3,287.0L349.7,290.4L350.2,295.5L350.6,301.0L351.1,309.2L351.5,307.1L352.0,305.2L352.4,303.0L352.9,305.4L353.3,307.2L353.8,308.8L354.3,307.4L354.7,309.8L355.2,308.4L355.6,301.7L356.1,302.6L356.5,308.6L357.0,314.2L357.4,317.5L357.9,313.3L358.3,309.7L358.8,310.1L359.2,312.4L359.7,314.7L360.1,315.9L360.6,316.8L361.0,315.8L361.5,314.9L361.9,317.7L362.4,316.2L362.8,312.7L363.3,310.8L363.8,307.7L364.2,309.9L364.7,311.2L365.1,313.8L365.6,316.4L366.0,312.0L366.5,310.6L366.9,309.9L367.4,306.5L367.8,302.5L368.3,298.6L368.7,294.7L369.2,295.3L369.6,297.2L370.1,297.1L370.5,300.1L371.0,296.7L371.4,293.3L371.9,291.4L372.4,289.5L372.8,287.3L373.3,285.3L373.7,285.5L374.2,283.4L374.6,283.9L375.1,284.5L375.5,284.7L376.0,287.4L376.4,288.3L376.9,284.3L377.3,278.8L377.8,277.4L378.2,274.8L378.7,270.1L379.1,272.5L379.6,273.6L380.0,274.7L380.5,276.1L380.9,275.6L381.4,272.4L381.9,270.5L382.3,271.1L382.8,272.2L383.2,275.2L383.7,281.2L384.1,280.6L384.6,283.4L385.0,286.2L385.5,286.7L385.9,288.1L386.4,289.8L386.8,297.7L387.3,309.0L387.7,315.4L388.2,314.4L388.6,316.1L389.1,317.3L389.5,319.9L390.0,321.3L390.5,321.0L390.9,321.8L391.4,325.9L391.8,328.4L392.3,322.8L392.7,321.5L393.2,319.5L393.6,315.7L394.1,313.7L394.5,312.0L395.0,308.4L395.4,306.4L395.9,302.2L396.3,304.1L396.8,301.6L397.2,303.4L397.7,308.4L398.1,306.4L398.6,309.6L399.0,302.4L399.5,303.7L400.0,304.8L400.4,305.9L400.9,306.0L401.3,306.7L401.8,308.3L402.2,309.6L402.7,310.5L403.1,312.7L403.6,312.5L404.0,314.4L404.5,314.5L404.9,317.5L405.4,317.1L405.8,321.3L406.3,322.0L406.7,317.5L407.2,312.0L407.6,315.0L408.1,317.0L408.6,314.1L409.0,310.8L409.5,312.8L409.9,311.7L410.4,310.7L410.8,312.2L411.3,310.5L411.7,309.3L412.2,305.7L412.6,305.8L413.1,303.1L413.5,304.0L414.0,301.5L414.4,305.6L414.9,307.9L415.3,309.7L415.8,301.6L416.2,296.0L416.7,289.7L417.1,289.3L417.6,288.4L418.1,289.1L418.5,284.2L419.0,280.9L419.4,280.5L419.9,281.8L420.3,278.3L420.8,276.6L421.2,276.0L421.7,276.8L422.1,278.6L422.6,276.2L423.0,276.4L423.5,275.8L423.9,276.4L424.4,279.8L424.8,280.4L425.3,281.8L425.7,280.1L426.2,283.1L426.7,283.9L427.1,286.5L427.6,286.7L428.0,283.3L428.5,282.4L428.9,281.3L429.4,280.3L429.8,279.9L430.3,287.7L430.7,293.7L431.2,281.2L431.6,272.0L432.1,261.1L432.5,261.1L433.0,262.5L433.4,263.3L433.9,266.2L434.3,266.7L434.8,261.5L435.2,267.5L435.7,268.4L436.2,270.8L436.6,267.7L437.1,268.9L437.5,269.5L438.0,268.1L438.4,267.8L438.9,263.2L439.3,261.4L439.8,260.7L440.2,256.3L440.7,257.1L441.1,256.6L441.6,254.9L442.0,252.7L442.5,253.9L442.9,254.6L443.4,255.9L443.8,256.2L444.3,256.0L444.8,253.5L445.2,251.1L445.7,255.4L446.1,260.7L446.6,263.8L447.0,264.4L447.5,268.2L447.9,271.0L448.4,276.0L448.8,277.2L449.3,272.8L449.7,273.7L450.2,276.1L450.6,274.3L451.1,280.1L451.5,285.5L452.0,285.2L452.4,280.0L452.9,276.4L453.3,274.9L453.8,272.0L454.3,269.8L454.7,271.6L455.2,269.8L455.6,268.4L456.1,270.7L456.5,271.1L457.0,273.6L457.4,274.3L457.9,276.0L458.3,276.0L458.8,274.0L459.2,270.3L459.7,266.3L460.1,263.9L460.6,263.7L461.0,259.2L461.5,259.6L461.9,259.7L462.4,258.1L462.9,258.4L463.3,255.5L463.8,257.7L464.2,255.0L464.7,257.3L465.1,257.0L465.6,258.2L466.0,256.5L466.5,258.0L466.9,256.3L467.4,258.7L467.8,258.5L468.3,257.2L468.7,256.3L469.2,253.9L469.6,251.8L470.1,251.4L470.5,249.3L471.0,250.8L471.4,249.5L471.9,248.9L472.4,247.6L472.8,246.6L473.3,245.9L473.7,246.1L474.2,246.2L474.6,241.5L475.1,242.8L475.5,247.9L476.0,244.1L476.4,238.4L476.9,230.6L477.3,225.3L477.8,222.6L478.2,220.5L478.7,216.6L479.1,217.4L479.6,214.1L480.0,213.4L480.5,209.8L481.0,209.4L481.4,206.8L481.9,210.3L482.3,206.7L482.8,205.5L483.2,202.5L483.7,199.9L484.1,201.6L484.6,202.8L485.0,201.4L485.5,199.6L485.9,196.7L486.4,193.3L486.8,194.2L487.3,195.6L487.7,196.4L488.2,197.1L488.6,196.6L489.1,196.5L489.5,195.0L490.0,194.6L490.5,193.4L490.9,193.1L491.4,191.5L491.8,191.2L492.3,193.1L492.7,192.9L493.2,188.1L493.6,190.7L494.1,189.1L494.5,187.9L495.0,181.7L495.4,180.8L495.9,182.2L496.3,182.5L496.8,179.8L497.2,183.6L497.7,184.5L498.1,185.4L498.6,187.1L499.1,185.2L499.5,187.9L500.0,185.7L500.4,191.8L500.9,192.8L501.3,191.3L501.8,188.4L502.2,188.8L502.7,188.4L503.1,183.2L503.6,183.5L504.0,183.3L504.5,180.7L504.9,179.9L505.4,181.1L505.8,178.2L506.3,177.0L506.7,172.9L507.2,167.2L507.6,164.7L508.1,159.2L508.6,155.8L509.0,153.3L509.5,153.9L509.9,151.3L510.4,155.3L510.8,155.1L511.3,163.1L511.7,162.5L512.2,153.8L512.6,153.8L513.1,156.3L513.5,157.7L514.0,157.9L514.4,157.2L514.9,157.0L515.3,155.9L515.8,158.5L516.2,156.5L516.7,153.8L517.2,151.5L517.6,153.3L518.1,153.5L518.5,157.8L519.0,161.6L519.4,171.2L519.9,178.6L520.3,182.8L520.8,187.1L521.2,179.8L521.7,178.4L522.1,177.5L522.6,175.5L523.0,177.3L523.5,179.9L523.9,179.0L524.4,177.9L524.8,185.3L525.3,183.2L525.7,183.5L526.2,185.1L526.7,184.8L527.1,184.2L527.6,182.4L528.0,181.7L528.5,179.0L528.9,176.3L529.4,177.6L529.8,171.7L530.3,170.9L530.7,171.6L531.2,167.0L531.6,164.9L532.1,164.3L532.5,163.5L533.0,164.3L533.4,160.3L533.9,161.3L534.3,163.4L534.8,167.9L535.3,173.0L535.7,161.2L536.2,158.9L536.6,151.8L537.1,146.2L537.5,139.9L538.0,147.1L538.4,150.2L538.9,147.0L539.3,137.0L539.8,136.4L540.2,136.3L540.7,139.8L541.1,144.0L541.6,144.1L542.0,144.9L542.5,142.9L542.9,138.0L543.4,140.5L543.8,134.1L544.3,130.3L544.8,128.4L545.2,130.4L545.7,125.7L546.1,130.3L546.6,132.8L547.0,136.0L547.5,135.6L547.9,138.6L548.4,137.2L548.8,143.3L549.3,140.3L549.7,140.6L550.2,140.9L550.6,143.1L551.1,147.3L551.5,147.4L552.0,153.1L552.4,159.1L552.9,164.5L553.4,156.8L553.8,158.8L554.3,154.0L554.7,152.6L555.2,155.7L555.6,153.1L556.1,154.9L556.5,155.6L557.0,152.6L557.4,150.1L557.9,151.5L558.3,154.1L558.8,150.0L559.2,151.4L559.7,148.6L560.1,140.5L560.6,142.2L561.0,144.4L561.5,150.9L561.9,151.0L562.4,149.2L562.9,145.3L563.3,142.3L563.8,134.9L564.2,129.5L564.7,122.9L565.1,119.0L565.6,114.8L566.0,105.7L566.5,103.1L566.9,102.0L567.4,95.9L567.8,94.7L568.3,95.3L568.7,104.3L569.2,100.3L569.6,107.7L570.1,110.2L570.5,114.1L571.0,107.7L571.5,107.2L571.9,104.1L572.4,100.7L572.8,99.1L573.3,103.4L573.7,104.6L574.2,106.6L574.6,111.1L575.1,112.4L575.5,117.9L576.0,117.0L576.4,115.9L576.9,112.9L577.3,111.5L577.8,109.4L578.2,103.6L578.7,106.1L579.1,104.7L579.6,102.5L580.0,99.7L580.5,94.5L581.0,99.9L581.4,100.5L581.9,101.4L582.3,101.1L582.8,104.3L583.2,107.2L583.7,107.5L584.1,111.2L584.6,108.1L585.0,104.7L585.5,102.2L585.9,103.5L586.4,101.5L586.8,100.5L587.3,99.8L587.7,99.5L588.2,98.6L588.6,91.7L589.1,95.6L589.6,89.8L590.0,89.0L590.5,88.9L590.9,89.1L591.4,92.6L591.8,92.4L592.3,99.6L592.7,103.7L593.2,107.4L593.6,111.5L594.1,112.2L594.5,112.3L595.0,117.1L595.4,123.0L595.9,124.7L596.3,141.5L596.8,147.6L597.2,149.6L597.7,148.7L598.1,140.1L598.6,135.3L599.1,127.0L599.5,118.4L600.0,110.8L600.4,112.0L600.9,107.9L601.3,104.8L601.8,100.5L602.2,96.6L602.7,96.1L603.1,92.7L603.6,93.1L604.0,92.7L604.5,97.7L604.9,98.6L605.4,94.7L605.8,89.1L606.3,90.8L606.7,89.5L607.2,84.0L607.7,81.5L608.1,85.6L608.6,86.4L609.0,88.3L609.5,93.6L609.9,95.5L610.4,100.7L610.8,110.6L611.3,114.0L611.7,121.1L612.2,123.6L612.6,117.4L613.1,113.3L613.5,107.0L614.0,117.3L614.4,116.4L614.9,112.1L615.3,110.2L615.8,109.2L616.2,103.8L616.7,107.5L617.2,103.1L617.6,102.6L618.1,99.6L618.5,100.0L619.0,92.6L619.4,90.2L619.9,96.5L620.3,104.9L620.8,113.9L621.2,116.9L621.7,123.1L622.1,125.3L622.6,133.6L623.0,129.4L623.5,125.2L623.9,108.8L624.4,101.9L624.8,89.7L625.3,83.2L625.8,70.7L626.2,73.3L626.7,66.4L627.0,58.7" fill="none" stroke="#3d1e2e" stroke-width="1.85" stroke-linejoin="round" stroke-linecap="round"/>
</svg>
</body></html>
